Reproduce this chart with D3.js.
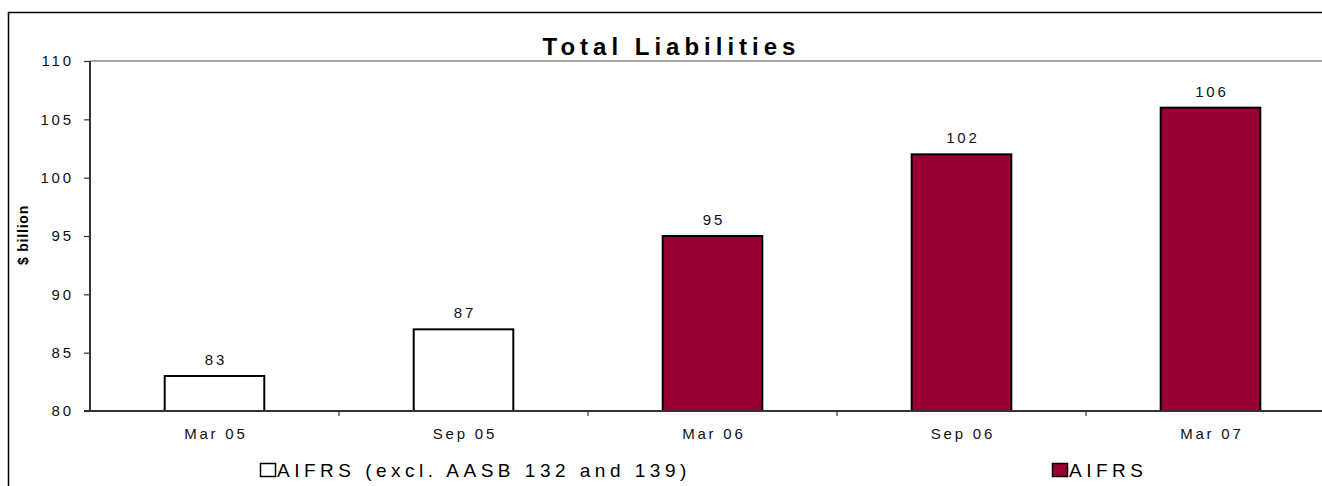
<!DOCTYPE html>
<html>
<head>
<meta charset="utf-8">
<script src="https://cdn.jsdelivr.net/npm/d3@7"></script>
<style>
  html, body { margin: 0; padding: 0; background: #fff; }
  svg { display: block; font-family: "Liberation Sans", Arial, sans-serif; }
</style>
</head>
<body>
<svg id="chart" width="1322" height="486"></svg>
<script>
// Total liabilities by half-year reporting date ($ billion)
const categories = ["Mar 05", "Sep 05", "Mar 06", "Sep 06", "Mar 07"];
const values = [83, 87, 95, 102, 106];
const seriesOf = [0, 0, 1, 1, 1];
const seriesNames = ["AIFRS (excl. AASB 132 and 139)", "AIFRS"];
const seriesColors = ["#ffffff", "#990033"];
const yTicks = [80, 85, 90, 95, 100, 105, 110];
const title = "Total Liabilities";
const yLabel = "$ billion";

const svg = d3.select("#chart");
const W = 1322, H = 486;
const plot = { left: 90, top: 61, right: 1335, bottom: 411 };

// Outer frame of the chart area (runs past the right and bottom edges)
svg.append("rect")
  .attr("x", 8.5).attr("y", 12.5)
  .attr("width", W + 20).attr("height", H + 20)
  .attr("fill", "none").attr("stroke", "#000").attr("stroke-width", 1.5);

const x = d3.scaleBand().domain(categories).range([plot.left, plot.right]).padding(0);
const y = d3.scaleLinear().domain([80, 110]).range([plot.bottom, plot.top]);

// Plot-area top edge
svg.append("line")
  .attr("x1", plot.left).attr("x2", plot.right)
  .attr("y1", plot.top).attr("y2", plot.top)
  .attr("stroke", "#888").attr("stroke-width", 1.5);

// Bars
const barFrac = 0.4;
svg.append("g").selectAll("rect")
  .data(categories)
  .join("rect")
  .attr("x", (d) => x(d) + x.bandwidth() * (1 - barFrac) / 2)
  .attr("width", x.bandwidth() * barFrac)
  .attr("y", (d, i) => y(values[i]))
  .attr("height", (d, i) => y(80) - y(values[i]))
  .attr("fill", (d, i) => seriesColors[seriesOf[i]])
  .attr("stroke", "#000")
  .attr("stroke-width", 2);

// Value labels above the bars
const fs = 15;
const lblSpacing = 2.8;
svg.append("g").selectAll("text")
  .data(categories)
  .join("text")
  .attr("x", (d) => x(d) + x.bandwidth() / 2 + lblSpacing / 2)
  .attr("y", (d, i) => y(values[i]) - 11)
  .attr("text-anchor", "middle")
  .attr("font-size", fs)
  .attr("letter-spacing", lblSpacing)
  .attr("fill", "#111")
  .text((d, i) => values[i]);

// Y axis
const yAxis = d3.axisLeft(y).tickValues(yTicks).tickSize(6).tickPadding(0).tickFormat(d3.format("d"));
const gy = svg.append("g").attr("transform", `translate(${plot.left},0)`).call(yAxis);
gy.select(".domain").attr("stroke", "#333").attr("stroke-width", 2)
  .attr("d", `M0,${plot.bottom}V${plot.top}`);
gy.selectAll(".tick line").attr("stroke", "#333").attr("stroke-width", 1.2);
gy.selectAll(".tick text")
  .attr("x", -19 + lblSpacing)
  .attr("font-size", fs)
  .attr("font-family", "Liberation Sans, Arial, sans-serif")
  .attr("letter-spacing", lblSpacing)
  .attr("fill", "#111");

// X axis: ticks sit on the category boundaries
const gx = svg.append("g").attr("transform", `translate(0,${plot.bottom})`);
gx.append("line")
  .attr("x1", plot.left - 6).attr("x2", plot.right)
  .attr("stroke", "#333").attr("stroke-width", 2);
gx.selectAll("line.tk")
  .data(categories.slice(1))
  .join("line")
  .attr("class", "tk")
  .attr("x1", (d) => x(d)).attr("x2", (d) => x(d))
  .attr("y1", 0).attr("y2", 5)
  .attr("stroke", "#333").attr("stroke-width", 1.2);
gx.selectAll("text")
  .data(categories)
  .join("text")
  .attr("x", (d) => x(d) + x.bandwidth() / 2 + lblSpacing / 2)
  .attr("y", 28)
  .attr("text-anchor", "middle")
  .attr("font-size", fs)
  .attr("letter-spacing", lblSpacing)
  .attr("fill", "#111")
  .text((d) => d);

// Title
svg.append("text")
  .attr("x", 669 + 2.5).attr("y", 55)
  .attr("text-anchor", "middle")
  .attr("font-size", 24)
  .attr("font-weight", "bold")
  .attr("letter-spacing", 5)
  .attr("fill", "#000")
  .text(title);

// Y-axis title
svg.append("text")
  .attr("transform", "translate(28,235) rotate(-90)")
  .attr("text-anchor", "middle")
  .attr("font-size", 14)
  .attr("font-weight", "bold")
  .attr("letter-spacing", 0.8)
  .attr("fill", "#000")
  .text(yLabel);

// Legend
const legendPos = [260, 1052];
const legend = svg.append("g").selectAll("g")
  .data(seriesNames)
  .join("g")
  .attr("transform", (d, i) => `translate(${legendPos[i]},0)`);
legend.append("rect")
  .attr("x", 0.5).attr("y", 463.5)
  .attr("width", 15).attr("height", 13)
  .attr("fill", (d, i) => seriesColors[i])
  .attr("stroke", "#000").attr("stroke-width", 1.5);
legend.append("text")
  .attr("x", 17).attr("y", 477)
  .attr("font-size", 19)
  .attr("letter-spacing", 4.5)
  .attr("fill", "#000")
  .text((d) => d);
</script>
</body>
</html>
